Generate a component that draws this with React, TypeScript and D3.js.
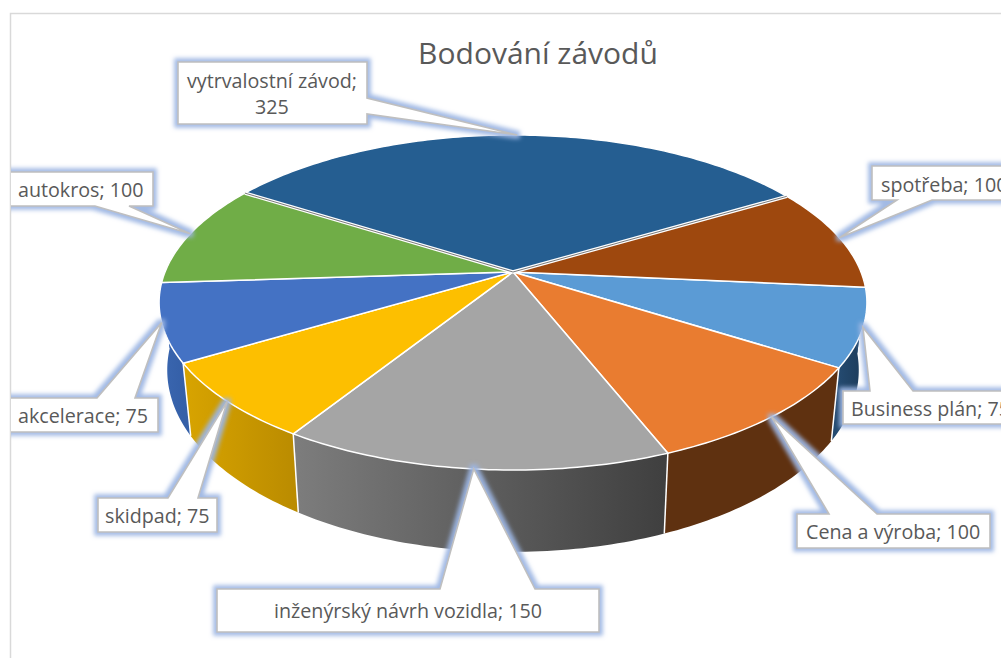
import React from "react";
import * as d3 from "d3";

// Slice values in worksheet order; the first slice starts at FIRST_SLICE_DEG.
const categories = ["Business plán", "Cena a výroba", "inženýrský návrh vozidla", "skidpad", "akcelerace", "autokros", "vytrvalostní závod", "spotřeba"];
const values = [75, 100, 150, 75, 75, 100, 325, 100];
const topColors = ["#5b9bd5", "#e97c30", "#a5a5a5", "#fdbf00", "#4472c4", "#70ad47", "#255e91", "#9e480e"];
// Wall shading per slice; the two slices turning away from the viewer only contribute a dark edge sliver.
const wallStartColors = ["#244a70", "#5f3110", "#7d7d7d", "#d8a400", "#3a66b0", "#3a66b0", "#1a4268", "#244a70"];
const wallEndColors = ["#1c3a58", "#5f3110", "#3f3f3f", "#bb8c00", "#3560a8", "#3a66b0", "#1a4268", "#244a70"];

const FIRST_SLICE_DEG = 95.3;
const CX = 513;
const CY = 272;
const RX = 348;
const RY = 162;
const TILT = 0.182;
const BASE_CY = 337;
const BASE_SX = 0.977;
const BASE_SY = 1.085;
const WALL_FROM_DEG = 70;
const WALL_TO_DEG = 290;
const rad = (d: number) => (d * Math.PI) / 180;

type Pt = [number, number];

// Perspective view of the unit disc; theta runs clockwise from the far edge.
const rimOffset = (theta: number): Pt => {
  const u = Math.sin(theta);
  const v = -Math.cos(theta);
  const w = 1 - TILT * v;
  return [(RX * u) / w, (RY * v) / w];
};
const topPoint = (theta: number): Pt => {
  const [dx, dy] = rimOffset(theta);
  return [CX + dx, CY + dy];
};
const basePoint = (theta: number): Pt => {
  const [dx, dy] = rimOffset(theta);
  return [CX + dx * BASE_SX, BASE_CY + dy * BASE_SY];
};
const arcSamples = (a0: number, a1: number) => {
  const n = Math.max(2, Math.ceil(((a1 - a0) * 180) / Math.PI));
  return d3.range(n + 1).map((i) => a0 + ((a1 - a0) * i) / n);
};

const pie = d3
  .pie<number>()
  .sort(null)
  .startAngle(rad(FIRST_SLICE_DEG))
  .endAngle(rad(FIRST_SLICE_DEG) + 2 * Math.PI);
const slices = pie(values);
const line = d3.line<Pt>();

// Slices whose leading edge is on or behind the silhouette carry no visible seam.
const seamless = new Set(["Business plán", "autokros", "spotřeba"]);

// Placement of each value callout: box edges, the edge carrying the wedge, and the wedge base.
type Box = { x0: number; y0: number; x1: number; y1: number; edge: "top" | "bottom" | "right"; a: number; b: number; tx: number; ty: number; anchor?: string; wrap?: boolean };
const boxes: Box[] = [
  { x0: 843, y0: 391, x1: 1040, y1: 424, edge: "top", a: 870, b: 913, tx: 851, ty: 416 },
  { x0: 797, y0: 514, x1: 990, y1: 548, edge: "top", a: 829, b: 877, tx: 806, ty: 539 },
  { x0: 217, y0: 589, x1: 599, y1: 632, edge: "top", a: 440, b: 535, tx: 408, ty: 618, anchor: "middle" },
  { x0: 98, y0: 498, x1: 217, y1: 532, edge: "top", a: 168, b: 198, tx: 105, ty: 523 },
  { x0: 0, y0: 398, x1: 158, y1: 432, edge: "top", a: 97, b: 135, tx: 18, ty: 423 },
  { x0: 0, y0: 172, x1: 153, y1: 206, edge: "bottom", a: 95, b: 129, tx: 18, ty: 197 },
  { x0: 178, y0: 62, x1: 367, y1: 124, edge: "right", a: 98, b: 114, tx: 272, ty: 88, anchor: "middle", wrap: true },
  { x0: 872, y0: 166, x1: 1040, y1: 200, edge: "bottom", a: 897, b: 932, tx: 881, ty: 192 },
];

const calloutPath = (box: Box, tip: Pt) => {
  const { x0, y0, x1, y1, edge, a, b } = box;
  let pts: Pt[];
  if (edge === "top") pts = [[x0, y0], [a, y0], tip, [b, y0], [x1, y0], [x1, y1], [x0, y1]];
  else if (edge === "bottom") pts = [[x0, y0], [x1, y0], [x1, y1], [b, y1], tip, [a, y1], [x0, y1]];
  else pts = [[x0, y0], [x1, y0], [x1, a], tip, [x1, b], [x1, y1], [x0, y1]];
  return line(pts) + "Z";
};

const FONT = "'Open Sans', sans-serif";
const TEXT = "#595959";

export default function App() {
  const front = slices
    .map((s, i) => {
      const wrap = s.startAngle >= 2 * Math.PI ? 2 * Math.PI : 0;
      return { i, a0: Math.max(s.startAngle - wrap, rad(WALL_FROM_DEG)), a1: Math.min(s.endAngle - wrap, rad(WALL_TO_DEG)) };
    })
    .filter((w) => w.a1 > w.a0);

  return (
    <svg width={1001} height={658} style={{ position: "fixed", left: 0, top: 0, background: "#fff" }}>
      <defs>
        <filter id="glow" filterUnits="userSpaceOnUse" x={-40} y={0} width={1100} height={700}>
          <feMorphology in="SourceAlpha" operator="dilate" radius="2.5" result="grown" />
          <feGaussianBlur in="grown" stdDeviation="2.2" result="b" />
          <feFlood floodColor="#9db6e3" floodOpacity="0.95" />
          <feComposite in2="b" operator="in" />
          <feMerge>
            <feMergeNode />
            <feMergeNode in="SourceGraphic" />
          </feMerge>
        </filter>
        <clipPath id="plot">
          <rect x={11} y={14} width={990} height={644} />
        </clipPath>
        {front.map((w) => {
          const [x0] = topPoint(w.a0);
          const [x1] = topPoint(w.a1);
          return (
            <linearGradient key={w.i} id={`wall${w.i}`} gradientUnits="userSpaceOnUse" x1={Math.min(x0, x1)} x2={Math.max(x0, x1)} y1={0} y2={0}>
              <stop offset="0" stopColor={x0 < x1 ? wallEndColors[w.i] : wallStartColors[w.i]} />
              <stop offset="1" stopColor={x0 < x1 ? wallStartColors[w.i] : wallEndColors[w.i]} />
            </linearGradient>
          );
        })}
      </defs>

      <rect x={10.5} y={13.5} width={1100} height={800} fill="#fff" stroke="#d9d9d9" strokeWidth={1.5} />

      <text x={538} y={64} textAnchor="middle" fontFamily={FONT} fontSize={30} fill={TEXT}>
        Bodování závodů
      </text>

      {/* Outer wall of the near half */}
      {front.map((w) => {
        const samples = arcSamples(w.a0, w.a1);
        const d = line([...samples.map(topPoint), ...samples.slice().reverse().map(basePoint)]) + "Z";
        return <path key={w.i} d={d} fill={`url(#wall${w.i})`} />;
      })}
      {front
        .filter((w) => !seamless.has(categories[w.i]))
        .map((w) => (
          <path key={w.i} d={line([topPoint(w.a0), basePoint(w.a0)]) as string} stroke="#fff" strokeWidth={1.5} fill="none" />
        ))}

      {/* Top faces */}
      {slices.map((s, i) => {
        const d = line([[CX, CY], ...arcSamples(s.startAngle, s.endAngle).map(topPoint)]) + "Z";
        return <path key={i} d={d} fill={topColors[i]} stroke="#fff" strokeWidth={1.5} strokeLinejoin="round" />;
      })}

      {/* The long slice sits slightly apart, so its straight edges show a sliver of inner wall */}
      {[slices[6].startAngle, slices[6].endAngle].map((a, i) => (
        <g key={i}>
          <path d={line([[CX, CY], topPoint(a)]) as string} stroke="#fff" strokeWidth={3.4} fill="none" />
          <path d={line([[CX, CY], topPoint(a)]) as string} stroke="#7a7a7a" strokeWidth={1} fill="none" />
        </g>
      ))}

      {/* Value callouts */}
      <g clipPath="url(#plot)">
        {slices.map((s, i) => {
          const tip = topPoint((s.startAngle + s.endAngle) / 2);
          return (
            <g key={i} filter="url(#glow)">
              <path d={calloutPath(boxes[i], tip)} fill="#fff" stroke="#bfbfbf" strokeWidth={1.6} strokeLinejoin="miter" />
            </g>
          );
        })}
        {slices.map((s, i) => {
          const box = boxes[i];
          const common = { fontFamily: FONT, fontSize: 19.7, fill: TEXT, textAnchor: box.anchor ?? "start" };
          return box.wrap ? (
            <text key={i} {...common}>
              <tspan x={box.tx} y={box.ty}>{`${categories[i]};`}</tspan>
              <tspan x={box.tx} y={box.ty + 26}>{values[i]}</tspan>
            </text>
          ) : (
            <text key={i} x={box.tx} y={box.ty} {...common}>
              {`${categories[i]}; ${values[i]}`}
            </text>
          );
        })}
      </g>
    </svg>
  );
}
